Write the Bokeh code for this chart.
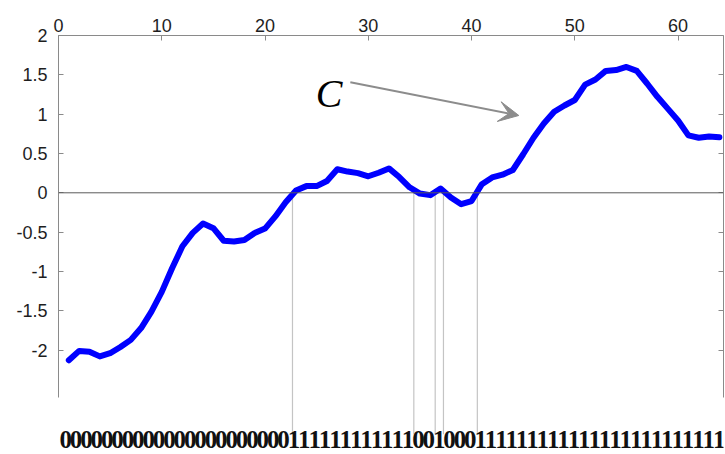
from bokeh.plotting import figure
from bokeh.models import (Range1d, LinearAxis, FixedTicker, Span, Arrow, VeeHead, Label,
                          LabelSet, ColumnDataSource)
from bokeh.embed import file_html
from bokeh.resources import INLINE

# ---- data ----
xs = list(range(1, 65))
ys = [-2.13, -2.01, -2.02, -2.08, -2.04, -1.96, -1.87, -1.72, -1.51, -1.26,
      -0.96, -0.68, -0.51, -0.39, -0.45, -0.61, -0.62, -0.60, -0.51, -0.455,
      -0.30, -0.12, 0.03, 0.085, 0.085, 0.15, 0.30, 0.27, 0.25, 0.21,
      0.255, 0.31, 0.20, 0.07, -0.01, -0.03, 0.055, -0.06, -0.145, -0.105,
      0.11, 0.195, 0.23, 0.29, 0.49, 0.70, 0.88, 1.03, 1.11, 1.18,
      1.375, 1.44, 1.55, 1.56, 1.60, 1.55, 1.39, 1.22, 1.07, 0.92,
      0.73, 0.70, 0.715, 0.705]
zero_crossings = [22.66, 34.41, 36.48, 37.28, 40.56]
x_ticks = [0, 10, 20, 30, 40, 50, 60]
y_ticks = [-2, -1.5, -1, -0.5, 0, 0.5, 1, 1.5, 2]
y_tick_labels = {-2: "-2", -1.5: "-1.5", -1: "-1", -0.5: "-0.5", 0: "0",
                 0.5: "0.5", 1: "1", 1.5: "1.5", 2: "2"}
annotation_text = "C"

# ---- layout constants ----
X_MIN, X_MAX = 0, 64.4
Y_AXIS_BOTTOM, Y_MAX = -2.6, 2
Y_FRAME_BOTTOM = -3.302
LINE_BOTTOM = -3.07
TEXT_Y = -3.25
C_X, C_Y = 26.2, 1.26
ARROW_X0, ARROW_Y0, ARROW_X1, ARROW_Y1 = 28.26, 1.406, 44.58, 0.983

bits = ["1" if v >= 0 else "0" for v in ys]
bit_x = [x - 0.3 + (x - 1) * 0.0045 for x in xs]

p = figure(width=725, height=454,
           x_range=Range1d(X_MIN, X_MAX), y_range=Range1d(Y_FRAME_BOTTOM, Y_MAX),
           output_backend="svg", toolbar_location=None,
           x_axis_location=None, y_axis_location=None,
           min_border_left=58, min_border_right=2, min_border_top=35, min_border_bottom=2)
p.outline_line_color = None
p.grid.grid_line_color = None
p.background_fill_color = "white"
p.border_fill_color = "white"

AX_COL = "#8a8a8a"
LAB_COL = "#1e1e1e"

top = LinearAxis(ticker=FixedTicker(ticks=x_ticks), major_tick_in=5, major_tick_out=0,
                 minor_tick_line_color=None, axis_line_color=AX_COL, major_tick_line_color=AX_COL,
                 major_label_text_font="Liberation Sans", major_label_text_font_size="18px",
                 major_label_text_color=LAB_COL, major_label_standoff=4)
p.add_layout(top, "above")

left = LinearAxis(ticker=FixedTicker(ticks=y_ticks), major_tick_in=5, major_tick_out=0,
                  minor_tick_line_color=None, axis_line_color=AX_COL, major_tick_line_color=AX_COL,
                  major_label_text_font="Liberation Sans", major_label_text_font_size="18px",
                  major_label_text_color=LAB_COL, major_label_standoff=11,
                  major_label_overrides=y_tick_labels, bounds=(Y_AXIS_BOTTOM, Y_MAX))
p.add_layout(left, "left")

right = LinearAxis(ticker=FixedTicker(ticks=y_ticks), major_tick_in=5, major_tick_out=0,
                   minor_tick_line_color=None, axis_line_color=AX_COL, major_tick_line_color=AX_COL,
                   major_label_text_color=None, major_label_standoff=0,
                   bounds=(Y_AXIS_BOTTOM, Y_MAX))
p.add_layout(right, "right")

p.add_layout(Span(location=0, dimension="width", line_color="#5a5a5a", line_width=1))

vsrc = ColumnDataSource(dict(x=zero_crossings, y0=[0] * len(zero_crossings),
                             y1=[LINE_BOTTOM] * len(zero_crossings)))
p.segment(x0="x", y0="y0", x1="x", y1="y1", source=vsrc, line_color="#c4c4c4", line_width=1.2)

p.line(xs, ys, line_color="#0000ff", line_width=6, line_join="round", line_cap="round")

bsrc = ColumnDataSource(dict(x=bit_x, y=[TEXT_Y] * len(bits), t=bits))
p.add_layout(LabelSet(x="x", y="y", text="t", source=bsrc, text_font="Liberation Serif",
                      text_font_style="bold", text_font_size="25px", text_align="center",
                      text_baseline="alphabetic", text_color="#111111"))

p.add_layout(Arrow(end=VeeHead(size=20, fill_color="#8c8c8c", line_color="#8c8c8c"),
                   x_start=ARROW_X0, y_start=ARROW_Y0, x_end=ARROW_X1, y_end=ARROW_Y1,
                   line_color="#8c8c8c", line_width=2))
p.add_layout(Label(x=C_X, y=C_Y, text=annotation_text, text_font="Liberation Serif",
                   text_font_style="italic", text_font_size="40px", text_align="center",
                   text_baseline="alphabetic", text_color="black"))

open("out.html", "w").write(file_html(p, INLINE))
